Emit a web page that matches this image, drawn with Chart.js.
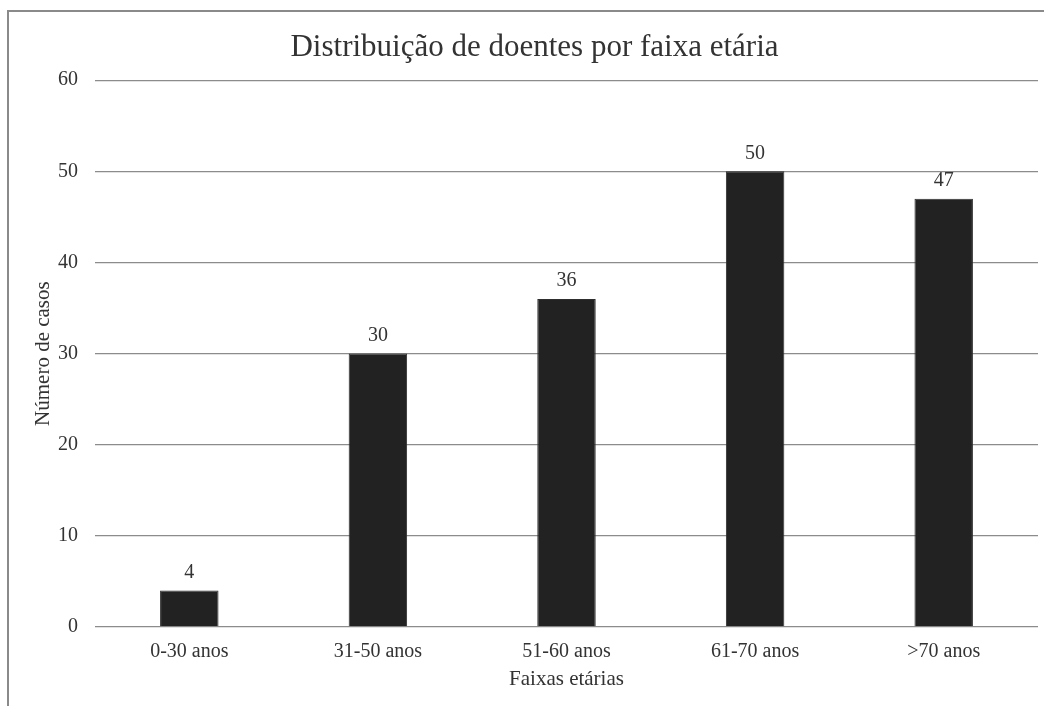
<!DOCTYPE html>
<html lang="pt">
<head>
<meta charset="utf-8">
<title>Distribuição de doentes por faixa etária</title>
<script src="https://cdn.jsdelivr.net/npm/chart.js@4/dist/chart.umd.min.js"></script>
<style>
  html, body { margin: 0; padding: 0; background: #ffffff; }
  #wrap { width: 1044px; height: 706px; }
</style>
</head>
<body>
<div id="wrap"><canvas id="chart" width="1044" height="706"></canvas></div>
<script>
// Age groups and number of patients in each
const categories = ['0-30 anos', '31-50 anos', '51-60 anos', '61-70 anos', '>70 anos'];
const casos = [4, 30, 36, 50, 47];
const yTicks = [0, 10, 20, 30, 40, 50, 60];

const serif = '"Liberation Serif", "Times New Roman", serif';
const textColor = '#333333';

// Gray frame around the figure (top and left edges)
const framePlugin = {
  id: 'frame',
  beforeDraw(chart) {
    const ctx = chart.ctx;
    ctx.save();
    ctx.fillStyle = '#ffffff';
    ctx.fillRect(0, 0, chart.width, chart.height);
    ctx.strokeStyle = '#8a8a8a';
    ctx.lineWidth = 2;
    ctx.beginPath();
    ctx.moveTo(8, chart.height);
    ctx.lineTo(8, 11);
    ctx.lineTo(chart.width, 11);
    ctx.stroke();
    ctx.restore();
  }
};

// Value written above each bar
const valueLabels = {
  id: 'valueLabels',
  afterDatasetsDraw(chart) {
    const ctx = chart.ctx;
    const meta = chart.getDatasetMeta(0);
    const values = chart.data.datasets[0].data;
    ctx.save();
    ctx.font = '20px ' + serif;
    ctx.fillStyle = textColor;
    ctx.textAlign = 'center';
    ctx.textBaseline = 'middle';
    meta.data.forEach((bar, i) => {
      ctx.fillText(String(values[i]), bar.x, bar.y - 18);
    });
    ctx.restore();
  }
};

new Chart(document.getElementById('chart'), {
  type: 'bar',
  data: {
    labels: categories,
    datasets: [{
      label: 'Número de casos',
      data: casos,
      backgroundColor: '#222222',
      borderColor: '#2e2e2e',
      borderWidth: 1,
      categoryPercentage: 1,
      barPercentage: 0.31
    }]
  },
  options: {
    responsive: false,
    animation: false,
    layout: { padding: { left: 31, right: 6, top: 0, bottom: 0 } },
    plugins: {
      legend: { display: false },
      tooltip: { enabled: false },
      title: {
        display: true,
        text: 'Distribuição de doentes por faixa etária',
        color: textColor,
        font: { family: serif, size: 31, weight: 'normal' },
        padding: { top: 29, bottom: 14 }
      }
    },
    scales: {
      x: {
        grid: { display: false, drawTicks: false },
        border: { display: false },
        ticks: {
          color: textColor,
          font: { family: serif, size: 20 },
          padding: 13,
          maxRotation: 0
        },
        title: {
          display: true,
          text: 'Faixas etárias',
          color: textColor,
          font: { family: serif, size: 21 },
          padding: { top: 0, bottom: 14 }
        },
        afterFit(scale) { scale.height = 79; }
      },
      y: {
        min: 0,
        max: 60,
        afterBuildTicks(scale) { scale.ticks = yTicks.map(v => ({ value: v })); },
        grid: { color: '#8c8c8c', lineWidth: 1.3, drawTicks: false },
        border: { display: false },
        ticks: {
          color: textColor,
          font: { family: serif, size: 20 },
          padding: 17
        },
        title: {
          display: true,
          text: 'Número de casos',
          color: textColor,
          font: { family: serif, size: 21 },
          padding: { top: 0, bottom: 0 }
        },
        afterFit(scale) { scale.width = 64; }
      }
    }
  },
  plugins: [framePlugin, valueLabels]
});
</script>
</body>
</html>
